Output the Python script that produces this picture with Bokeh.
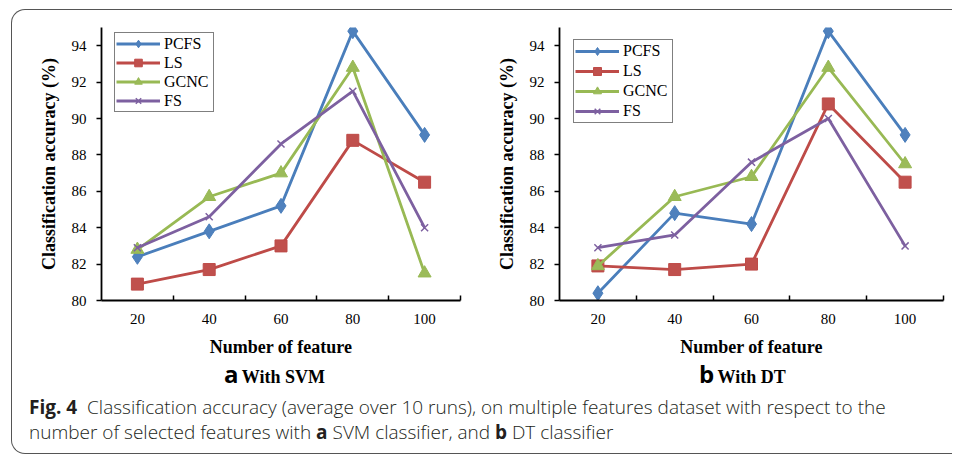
from bokeh.plotting import figure
from bokeh.models import FixedTicker, Legend, LegendItem, Div, Range1d
from bokeh.layouts import row, column
from bokeh.embed import file_html
from bokeh.resources import INLINE

# ---- data ----
features = [20, 40, 60, 80, 100]
x_tick_labels = [20, 40, 60, 80, 100]
x_category_edges = [30, 50, 70, 90, 110]
y_ticks = [80, 82, 84, 86, 88, 90, 92, 94]

series_names = ["PCFS", "LS", "GCNC", "FS"]

svm_pcfs = [82.4, 83.8, 85.2, 94.8, 89.1]
svm_ls = [80.9, 81.7, 83.0, 88.8, 86.5]
svm_gcnc = [82.8, 85.7, 87.0, 92.8, 81.5]
svm_fs = [82.9, 84.6, 88.6, 91.5, 84.0]

dt_pcfs = [80.4, 84.8, 84.2, 94.8, 89.1]
dt_ls = [81.9, 81.7, 82.0, 90.8, 86.5]
dt_gcnc = [81.9, 85.7, 86.8, 92.8, 87.5]
dt_fs = [82.9, 83.6, 87.6, 90.0, 83.0]

line_colors = ["#4A7EBB", "#BE4B48", "#98B954", "#7D60A0"]
fill_colors = ["#4F81BD", "#C0504D", "#9BBB59", "#8064A2"]
markers = ["diamond", "square", "triangle", "x"]
marker_sizes = [15, 12, 13, 10]

SERIF = "Liberation Serif"


def make_plot(values, width, mbl, mbr, leg_xy, label_h):
    p = figure(width=width, height=350, x_range=Range1d(10, 110), y_range=Range1d(80, 95),
               output_backend="svg", toolbar_location=None,
               min_border_left=mbl, min_border_right=mbr, min_border_top=17, min_border_bottom=60)
    p.outline_line_color = None
    p.xgrid.visible = False
    p.ygrid.visible = False
    p.background_fill_color = None
    p.border_fill_color = None

    items = []
    for name, vals, lc, fc, mk, ms in zip(series_names, values, line_colors, fill_colors, markers, marker_sizes):
        r1 = p.line(features, vals, line_color=lc, line_width=2.8)
        if mk == "x":
            r2 = p.scatter(features, vals, marker=mk, size=ms, line_color=lc, line_width=1.5)
        else:
            r2 = p.scatter(features, vals, marker=mk, size=ms, fill_color=fc, line_color=lc, line_width=1)
        items.append(LegendItem(label=name, renderers=[r1, r2]))

    leg = Legend(items=items, location=leg_xy, padding=1, spacing=0, margin=0,
                 label_height=label_h, glyph_height=label_h, glyph_width=44, label_width=48,
                 label_standoff=4, label_text_font=SERIF, label_text_font_size="16px",
                 label_text_color="black", border_line_color="black", border_line_width=1,
                 background_fill_color="white", background_fill_alpha=1)
    p.add_layout(leg, "center")

    xa = p.xaxis[0]
    xa.ticker = FixedTicker(ticks=x_tick_labels, minor_ticks=x_category_edges)
    xa.major_tick_line_color = None
    xa.major_tick_in = 0
    xa.major_tick_out = 0
    xa.minor_tick_line_color = "black"
    xa.minor_tick_line_width = 1.5
    xa.minor_tick_in = 5
    xa.minor_tick_out = 0
    xa.axis_line_color = "black"
    xa.axis_line_width = 1.8
    xa.major_label_text_font = SERIF
    xa.major_label_text_font_size = "15px"
    xa.major_label_text_color = "black"
    xa.major_label_standoff = 13
    xa.axis_label = "Number of feature"
    xa.axis_label_text_font = SERIF
    xa.axis_label_text_font_size = "18px"
    xa.axis_label_text_font_style = "bold"
    xa.axis_label_text_color = "black"
    xa.axis_label_standoff = 10

    ya = p.yaxis[0]
    ya.ticker = FixedTicker(ticks=y_ticks)
    ya.minor_tick_line_color = None
    ya.major_tick_in = 0
    ya.major_tick_out = 5
    ya.major_tick_line_width = 1.5
    ya.major_tick_line_color = "black"
    ya.axis_line_color = "black"
    ya.axis_line_width = 1.8
    ya.major_label_text_font = SERIF
    ya.major_label_text_font_size = "15px"
    ya.major_label_text_color = "black"
    ya.major_label_standoff = 10
    ya.axis_label = "Classification accuracy (%)"
    ya.axis_label_text_font = SERIF
    ya.axis_label_text_font_size = "18px"
    ya.axis_label_text_font_style = "bold"
    ya.axis_label_text_color = "black"
    ya.axis_label_standoff = 10
    return p


p1 = make_plot([svm_pcfs, svm_ls, svm_gcnc, svm_fs], 468, 89, 20, (13, 188), 19)
p2 = make_plot([dt_pcfs, dt_ls, dt_gcnc, dt_fs], 472, 79, 9, (14, 177), 20)


def sub_div(letter, text, width, pad):
    html = ("<span style=\"font-family:'Open Sans',sans-serif;font-weight:700;font-size:24px\">%s</span>"
            "&nbsp;<span style=\"font-family:'Liberation Serif',serif;font-weight:700;font-size:18px\">%s</span>"
            % (letter, text))
    return Div(text=html, width=width, height=32, margin=0,
               styles={"line-height": "24px", "padding-left": "%dpx" % pad, "padding-top": "2px",
                       "box-sizing": "border-box", "color": "black", "white-space": "nowrap"})


sub_a = sub_div("a", "With SVM", 468, 212)
sub_b = sub_div("b", "With DT", 472, 219)

caption = Div(
    text=("<b style='font-weight:700'>Fig.&nbsp;4</b>&nbsp; Classification accuracy (average over 10 runs), "
          "on multiple features dataset with respect to the<br>number of selected features with "
          "<b style='font-weight:700'>a</b> SVM classifier, and <b style='font-weight:700'>b</b> DT classifier"),
    width=940, height=61, margin=0,
    styles={"font-family": "'Open Sans', sans-serif", "font-size": "19px", "font-weight": "300",
            "line-height": "25px", "color": "#231f20", "padding-left": "17px", "padding-top": "3px",
            "box-sizing": "border-box", "white-space": "nowrap"},
)

layout = column(row(p1, p2), row(sub_a, sub_b), caption,
                styles={"border": "1.5px solid #555", "border-right": "none",
                        "border-radius": "14px 0 0 14px", "margin-left": "11px", "margin-top": "9px"})

html = file_html(layout, INLINE, title="Classification accuracy")
with open("out.html", "w") as f:
    f.write(html)
